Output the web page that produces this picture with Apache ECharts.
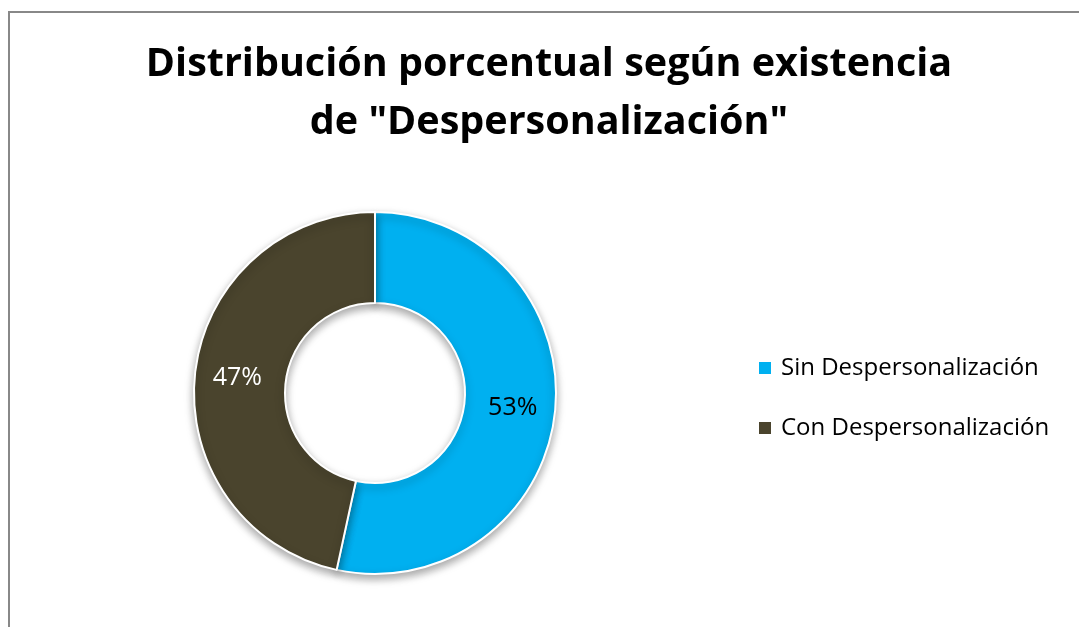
<!DOCTYPE html>
<html>
<head>
<meta charset="utf-8">
<script src="https://cdn.jsdelivr.net/npm/echarts@6/dist/echarts.min.js"></script>
<style>
	html, body { margin: 0; padding: 0; background: #fff; }
	#chart { width: 1079px; height: 627px; }
</style>
</head>
<body>
<div id="chart"></div>
<script>
	// datos del gráfico
	var categorias = ['Sin Despersonalización', 'Con Despersonalización'];
	var porcentajes = [53.4, 46.6];
	var colores = ['#00B0F0', '#4A442D'];
	var colorEtiqueta = ['#000000', '#ffffff'];

	var myChart = echarts.init(document.getElementById('chart'));
	var fuente = '"Open Sans", "Noto Sans", sans-serif';

	myChart.setOption({
		animation: false,
		color: colores,
		title: {
			text: 'Distribución porcentual según existencia\nde "Despersonalización"',
			left: 544,
			top: 31,
			textAlign: 'center',
			textStyle: {
				fontFamily: fuente,
				fontWeight: 'bold',
				fontSize: 39.5,
				lineHeight: 58,
				color: '#000'
			}
		},
		legend: {
			orient: 'vertical',
			left: 757,
			top: 356,
			padding: 0,
			itemWidth: 14,
			itemHeight: 14,
			itemGap: 36,
			icon: 'rect',
			textStyle: {
				fontFamily: fuente,
				fontSize: 24,
				lineHeight: 24,
				padding: [0, 0, 0, 4],
				color: '#000'
			},
			data: categorias
		},
		graphic: [{
			type: 'polyline',
			shape: { points: [[9, 627], [9, 12], [1079, 12]] },
			style: { stroke: '#888', lineWidth: 2, fill: null }
		}],
		series: [{
			name: 'Despersonalización',
			type: 'pie',
			center: [375, 393],
			radius: [90, 181],
			startAngle: 90,
			clockwise: true,
			label: {
				show: true,
				position: 'inside',
				fontFamily: fuente,
				fontSize: 25,
				formatter: function (p) { return Math.round(p.value) + '%'; }
			},
			labelLine: { show: false },
			itemStyle: {
				borderColor: '#fff',
				borderWidth: 2,
				shadowBlur: 8,
				shadowOffsetY: 4,
				shadowColor: 'rgba(0,0,0,0.35)'
			},
			data: categorias.map(function (c, i) {
				return {
					name: c,
					value: porcentajes[i],
					label: { color: colorEtiqueta[i] }
				};
			})
		}]
	});
</script>
</body>
</html>
